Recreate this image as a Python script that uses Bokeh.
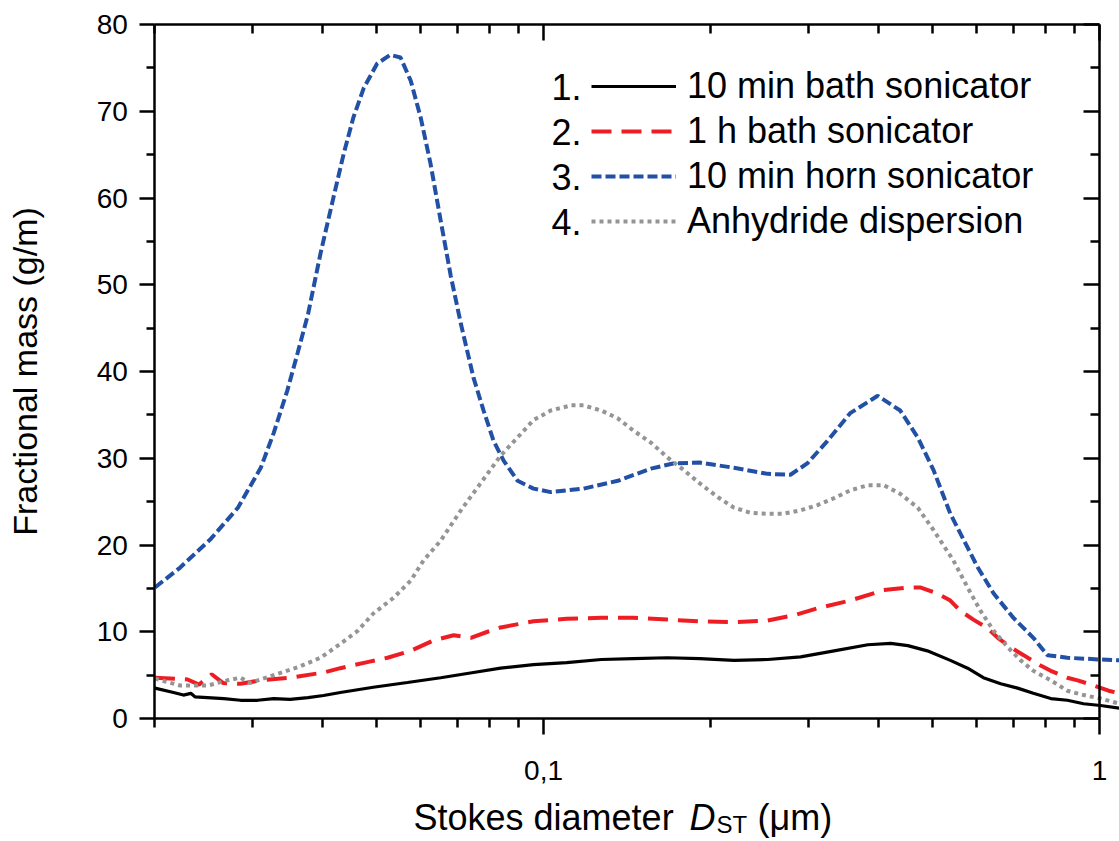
import numpy as np
from bokeh.plotting import figure
from bokeh.models import (FixedTicker, CustomJSTickFormatter, Legend, LegendItem,
                          Label, LogAxis, LinearAxis, Range1d)
from bokeh.embed import file_html
from bokeh.resources import INLINE

# ---------------- data ----------------
d_bath10 = [0.0200, 0.0216, 0.0225, 0.0232, 0.0236, 0.0266, 0.0285, 0.0306, 0.0327, 0.0350,
            0.0377, 0.0402, 0.0431, 0.0494, 0.0569, 0.0653, 0.0748, 0.0837, 0.0959, 0.110,
            0.127, 0.145, 0.167, 0.191, 0.220, 0.253, 0.290, 0.333, 0.383, 0.421,
            0.452, 0.490, 0.539, 0.579, 0.618, 0.664, 0.712, 0.760, 0.817, 0.875,
            0.936, 1.004, 1.086]
m_bath10 = [3.5, 3.0, 2.7, 2.9, 2.5, 2.3, 2.1, 2.1, 2.3, 2.2,
            2.4, 2.65, 3.0, 3.6, 4.15, 4.7, 5.3, 5.8, 6.2, 6.45,
            6.8, 6.9, 7.0, 6.9, 6.7, 6.8, 7.1, 7.8, 8.5, 8.65,
            8.4, 7.8, 6.7, 5.8, 4.7, 4.0, 3.5, 2.9, 2.3, 2.1,
            1.7, 1.5, 1.2]

d_bath60 = [0.0200, 0.0229, 0.0240, 0.0253, 0.0265, 0.0285, 0.0310, 0.0350, 0.0402, 0.0431,
            0.0482, 0.0524, 0.0577, 0.0634, 0.0689, 0.0740, 0.0793, 0.0837, 0.0959, 0.110,
            0.127, 0.145, 0.167, 0.191, 0.220, 0.253, 0.282, 0.311, 0.356, 0.409,
            0.452, 0.477, 0.511, 0.539, 0.562, 0.593, 0.629, 0.656, 0.692, 0.730,
            0.783, 0.817, 0.875, 0.913, 0.976, 1.038, 1.086]
m_bath60 = [4.7, 4.5, 3.9, 5.1, 4.1, 4.0, 4.4, 4.7, 5.3, 5.8,
            6.5, 7.0, 7.8, 9.0, 9.6, 9.3, 10.0, 10.5, 11.2, 11.5,
            11.6, 11.6, 11.4, 11.2, 11.1, 11.3, 11.9, 12.7, 13.6, 14.8,
            15.1, 15.1, 14.4, 13.6, 12.4, 11.4, 10.4, 9.3, 8.2, 7.3,
            6.1, 5.5, 4.7, 4.4, 3.8, 3.2, 2.9]

d_horn = [0.0200, 0.0222, 0.0252, 0.0282, 0.0310, 0.0327, 0.0346, 0.0361, 0.0377, 0.0397,
          0.0419, 0.0437, 0.0455, 0.0475, 0.0502, 0.0530, 0.0553, 0.0577, 0.0601, 0.0626,
          0.0653, 0.0681, 0.0710, 0.0748, 0.0780, 0.0813, 0.0848, 0.0898, 0.0959, 0.103,
          0.118, 0.136, 0.156, 0.171, 0.191, 0.220, 0.253, 0.278, 0.298, 0.324,
          0.356, 0.399, 0.438, 0.471, 0.503, 0.539, 0.604, 0.645, 0.700, 0.760,
          0.806, 0.875, 1.004, 1.086]
m_horn = [15.1, 17.4, 20.7, 24.3, 28.9, 32.9, 37.8, 42.1, 46.6, 53.6,
          60.1, 65.1, 69.3, 72.7, 75.5, 76.5, 76.2, 73.5, 69.3, 64.0,
          57.4, 51.0, 45.5, 39.3, 35.5, 32.0, 29.7, 27.4, 26.5, 26.1,
          26.5, 27.4, 28.8, 29.4, 29.5, 28.9, 28.2, 28.1, 29.4, 32.0,
          35.2, 37.2, 35.5, 32.4, 28.6, 23.6, 17.4, 14.4, 11.6, 9.3,
          7.3, 7.0, 6.8, 6.7]

d_anhyd = [0.0200, 0.0222, 0.0249, 0.0270, 0.0285, 0.0297, 0.0327, 0.0361, 0.0397, 0.0431,
           0.0463, 0.0494, 0.0537, 0.0577, 0.0608, 0.0653, 0.0710, 0.0770, 0.0837, 0.0898,
           0.0959, 0.103, 0.112, 0.118, 0.127, 0.136, 0.145, 0.156, 0.167, 0.179,
           0.191, 0.206, 0.220, 0.236, 0.253, 0.270, 0.290, 0.311, 0.333, 0.356,
           0.383, 0.409, 0.438, 0.471, 0.503, 0.546, 0.579, 0.611, 0.645, 0.684,
           0.721, 0.760, 0.817, 0.875, 0.936, 1.004, 1.086]
m_anhyd = [4.6, 3.8, 3.8, 4.4, 4.7, 4.1, 5.0, 5.9, 7.0, 8.6,
           10.1, 12.1, 13.9, 15.9, 18.2, 20.5, 24.0, 27.1, 30.3, 32.4,
           34.4, 35.5, 36.1, 36.1, 35.5, 34.6, 33.2, 31.8, 30.1, 28.6,
           27.1, 25.5, 24.3, 23.7, 23.6, 23.6, 24.0, 24.6, 25.4, 26.3,
           26.9, 26.9, 25.9, 24.3, 21.7, 18.2, 15.1, 12.4, 10.1, 8.2,
           6.7, 5.5, 4.4, 3.2, 2.7, 2.3, 1.7]

series_labels = ["10 min bath sonicator", "1 h bath sonicator",
                 "10 min horn sonicator", "Anhydride dispersion"]
series_numbers = ["1.", "2.", "3.", "4."]

x_major_ticks = [0.1, 1.0]
x_minor_ticks = [0.02, 0.03, 0.04, 0.05, 0.06, 0.07, 0.08, 0.09,
                 0.2, 0.3, 0.4, 0.5, 0.6, 0.7, 0.8, 0.9]
y_major_ticks = [0, 10, 20, 30, 40, 50, 60, 70, 80]
y_minor_ticks = [5, 15, 25, 35, 45, 55, 65, 75]
x_axis_span = (0.02, 1.0)
y_axis_span = (0, 80)

FONT = "Liberation Sans"
AXW = 2.5
INK = "black"

# The frame fills the whole canvas; the axes are pinned at fixed data locations
# so that all texts (including the composed x title) can live inside it.
p = figure(width=1119, height=841, x_axis_type="log",
           x_range=Range1d(0.01055, 1.086), y_range=Range1d(-14.18, 82.77),
           output_backend="svg", toolbar_location=None,
           min_border_left=0, min_border_right=0, min_border_top=0, min_border_bottom=0)
p.outline_line_color = None
p.xgrid.visible = False
p.ygrid.visible = False


def style_axis(ax, tick_out, tick_in, minor_out, minor_in):
    ax.major_tick_out = tick_out
    ax.major_tick_in = tick_in
    ax.minor_tick_out = minor_out
    ax.minor_tick_in = minor_in
    ax.axis_line_width = AXW
    ax.major_tick_line_width = AXW
    ax.minor_tick_line_width = AXW
    ax.axis_line_color = INK
    ax.major_tick_line_color = INK
    ax.minor_tick_line_color = INK


xa = p.xaxis[0]
xa.ticker = FixedTicker(ticks=x_major_ticks, minor_ticks=x_minor_ticks)
xa.fixed_location = y_axis_span[0]
xa.bounds = x_axis_span
xa.formatter = CustomJSTickFormatter(code="return tick.toString().replace('.', ',');")
style_axis(xa, 16, 0, 9, 0)
xa.major_label_text_font = FONT
xa.major_label_text_font_size = "28px"
xa.major_label_text_color = INK
xa.major_label_standoff = 27

ya = p.yaxis[0]
ya.ticker = FixedTicker(ticks=y_major_ticks, minor_ticks=y_minor_ticks)
ya.fixed_location = x_axis_span[0]
ya.bounds = y_axis_span
style_axis(ya, 15, 0, 8, 0)
ya.major_label_text_font = FONT
ya.major_label_text_font_size = "28px"
ya.major_label_text_color = INK
ya.major_label_standoff = 12

blank = "return '';"
top = LogAxis(ticker=FixedTicker(ticks=x_major_ticks, minor_ticks=x_minor_ticks),
              formatter=CustomJSTickFormatter(code=blank),
              fixed_location=y_axis_span[1], bounds=x_axis_span,
              major_label_text_font_size="2px", major_label_text_color=None,
              major_label_standoff=0)
style_axis(top, 0, 16, 0, 9)
p.add_layout(top, "above")

right = LinearAxis(ticker=FixedTicker(ticks=y_major_ticks, minor_ticks=y_minor_ticks),
                   formatter=CustomJSTickFormatter(code=blank),
                   fixed_location=x_axis_span[1], bounds=y_axis_span,
                   major_label_text_font_size="2px", major_label_text_color=None,
                   major_label_standoff=0)
style_axis(right, 0, 16, 0, 9)
p.add_layout(right, "right")

# ---------------- curves ----------------
r1 = p.line(d_bath10, m_bath10, line_color="black", line_width=3.2)
r2 = p.line(d_bath60, m_bath60, line_color="#EE1D24", line_width=4, line_dash="20 10")
r3 = p.line(d_horn, m_horn, line_color="#2150A5", line_width=4, line_dash="10 4")
r4 = p.line(d_anhyd, m_anhyd, line_color="#959595", line_width=4, line_dash="4 4")

legend = Legend(items=[LegendItem(label=lab, renderers=[r]) for lab, r in
                       zip(series_labels, [r1, r2, r3, r4])],
                location=(591, 598), orientation="vertical",
                padding=0, margin=0, spacing=1,
                glyph_width=85, glyph_height=44, label_height=44, label_standoff=11,
                label_text_font=FONT, label_text_font_size="36px", label_text_color=INK,
                border_line_alpha=0, background_fill_alpha=0)
p.add_layout(legend)

for i, num in enumerate(series_numbers):
    p.add_layout(Label(x=551, y=755 - 45 * i, x_units="screen", y_units="screen",
                       text=num, text_font=FONT, text_font_size="36px", text_color=INK,
                       text_baseline="middle", text_align="left"))

# y-axis title
p.add_layout(Label(x=24, y=470, x_units="screen", y_units="screen", angle=np.pi / 2,
                   text="Fractional mass (g/m)", text_font=FONT, text_font_size="34px",
                   text_color=INK, text_baseline="alphabetic", text_align="center"))

# x-axis title: Stokes diameter D_ST (µm)
title_y = 24
p.add_layout(Label(x=413, y=title_y, x_units="screen", y_units="screen",
                   text="Stokes diameter", text_font=FONT, text_font_size="36px",
                   text_color=INK, text_baseline="alphabetic", text_align="left"))
p.add_layout(Label(x=689, y=title_y, x_units="screen", y_units="screen",
                   text="D", text_font=FONT, text_font_size="36px", text_font_style="italic",
                   text_color=INK, text_baseline="alphabetic", text_align="left"))
p.add_layout(Label(x=716, y=title_y - 7, x_units="screen", y_units="screen",
                   text="ST", text_font=FONT, text_font_size="24px",
                   text_color=INK, text_baseline="alphabetic", text_align="left"))
p.add_layout(Label(x=757, y=title_y, x_units="screen", y_units="screen",
                   text="(\u03bcm)", text_font=FONT, text_font_size="36px",
                   text_color=INK, text_baseline="alphabetic", text_align="left"))

open("out.html", "w").write(file_html(p, INLINE))
